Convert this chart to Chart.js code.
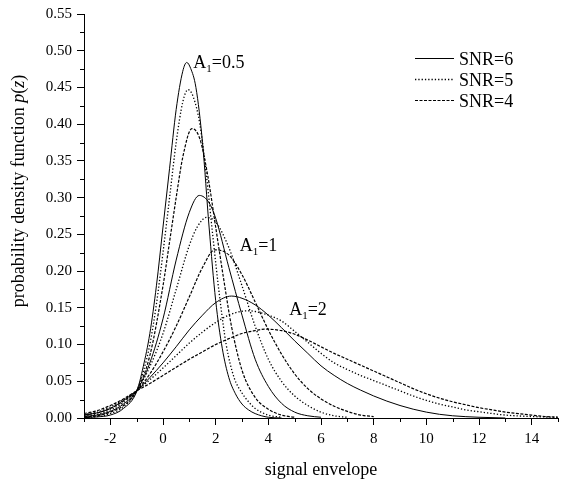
<!DOCTYPE html>
<html><head><meta charset="utf-8">
<script src="https://cdn.jsdelivr.net/npm/chart.js@4.4.1/dist/chart.umd.min.js"></script>
<style>html,body{margin:0;padding:0;background:#fff;} canvas{display:block;}</style>
</head><body>
<canvas id="c" width="563" height="483"></canvas>
<script>
const SERIF = '"Liberation Serif","Times New Roman",serif';

// ---------- data ----------
const xA05s6 = [-3,-2.5,-2,-1.5,-1,-0.75,-0.5,-0.25,0,0.25,0.5,0.75,0.9,1.05,1.25,1.5,1.75,2,2.25,2.5,2.75,3,3.25,3.5,4,4.5];
const yA05s6 = [0.0005,0.0015,0.004,0.013,0.036,0.07,0.115,0.18,0.26,0.34,0.42,0.472,0.484,0.476,0.45,0.375,0.26,0.16,0.095,0.055,0.033,0.019,0.011,0.006,0.001,0];

const xA05s5 = [-3,-2.5,-2,-1.5,-1,-0.75,-0.5,-0.25,0,0.25,0.5,0.75,0.95,1.15,1.4,1.65,1.9,2.15,2.4,2.7,3,3.25,3.5,4,4.5];
const yA05s5 = [0.001,0.002,0.006,0.015,0.037,0.063,0.1,0.155,0.225,0.3,0.375,0.43,0.447,0.437,0.4,0.33,0.245,0.165,0.1,0.055,0.034,0.022,0.013,0.004,0.001];

const xA05s4 = [-3,-2.5,-2,-1.5,-1,-0.5,0,0.25,0.5,0.75,1.1,1.4,1.7,2,2.3,2.6,3,3.5,4,4.5,5];
const yA05s4 = [0.0015,0.003,0.008,0.017,0.037,0.085,0.18,0.24,0.3,0.355,0.394,0.38,0.33,0.26,0.19,0.125,0.065,0.028,0.012,0.004,0.001];

const xA1s6 = [-3,-2.5,-2,-1.5,-1,-0.5,0,0.5,1,1.38,1.75,2,2.5,3,3.5,4,4.5,5,5.5,6];
const yA1s6 = [0.002,0.004,0.009,0.019,0.037,0.075,0.135,0.215,0.28,0.303,0.293,0.272,0.205,0.14,0.08,0.043,0.02,0.008,0.003,0.001];

const xA1s5 = [-3,-2.5,-2,-1.5,-1,-0.5,0,0.5,1,1.3,1.65,2,2.5,3,3.5,4,4.5,5,5.5,6,6.5,7];
const yA1s5 = [0.003,0.005,0.011,0.021,0.037,0.07,0.115,0.175,0.235,0.26,0.273,0.267,0.232,0.18,0.125,0.08,0.05,0.03,0.017,0.008,0.003,0.001];

const xA1s4 = [-3,-2.5,-2,-1.5,-1,-0.5,0,0.5,1,1.5,1.97,2.5,3,3.5,4,4.5,5,5.5,6,6.5,7,7.5,8];
const yA1s4 = [0.004,0.007,0.013,0.023,0.037,0.06,0.09,0.125,0.165,0.205,0.229,0.222,0.195,0.158,0.12,0.087,0.06,0.04,0.026,0.016,0.009,0.004,0.002];

const xA2s6 = [-3,-2.5,-2,-1.5,-1,-0.5,0,0.5,1,1.5,2,2.6,3,3.5,4,4.5,5,5.5,6,6.5,7,7.5,8,8.5,9,9.5,10,10.5,11,12,13];
const yA2s6 = [0.004,0.007,0.013,0.024,0.037,0.055,0.075,0.097,0.12,0.14,0.157,0.166,0.163,0.154,0.14,0.123,0.105,0.088,0.071,0.058,0.047,0.038,0.03,0.023,0.017,0.012,0.008,0.005,0.003,0.001,0];

const xA2s5 = [-3,-2.5,-2,-1.5,-1,-0.5,0,0.5,1,1.5,2,2.5,3.2,3.5,4,4.5,5,5.5,6,6.5,7,7.5,8,8.5,9,9.5,10,10.5,11,11.5,12,13,14,15];
const yA2s5 = [0.005,0.008,0.015,0.025,0.037,0.052,0.068,0.085,0.102,0.117,0.13,0.14,0.146,0.145,0.14,0.132,0.118,0.103,0.088,0.075,0.066,0.058,0.051,0.044,0.037,0.03,0.024,0.019,0.015,0.011,0.0085,0.004,0.002,0.001];

const xA2s4 = [-3,-2.5,-2,-1.5,-1,-0.5,0,0.5,1,1.5,2,2.5,3,3.5,3.85,4.5,5,5.5,6,6.5,7,7.5,8,8.5,9,9.5,10,10.5,11,11.5,12,12.5,13,13.5,14,14.5,15];
const yA2s4 = [0.006,0.01,0.017,0.026,0.037,0.047,0.058,0.069,0.08,0.09,0.1,0.108,0.115,0.119,0.121,0.119,0.114,0.106,0.097,0.088,0.08,0.072,0.064,0.056,0.048,0.04,0.033,0.027,0.022,0.018,0.014,0.011,0.008,0.006,0.004,0.002,0.001];

const legendLabels = ['SNR=6','SNR=5','SNR=4'];
const curveLabels = ['0.5','1','2'];
const curveLabelX = [1.15, 2.91, 4.79];
const curveLabelY = [0.476, 0.228, 0.14];
const xTickLabels = ['-2','0','2','4','6','8','10','12','14'];
const yTickLabels = ['0.00','0.05','0.10','0.15','0.20','0.25','0.30','0.35','0.40','0.45','0.50','0.55'];

// ---------- styling ----------
const dashes = [[], [1.3, 2], [3, 1.5]];
const widths = [1, 1.3, 1.2];
const seriesList = [
  [xA05s6, yA05s6, 0], [xA05s5, yA05s5, 1], [xA05s4, yA05s4, 2],
  [xA1s6, yA1s6, 0], [xA1s5, yA1s5, 1], [xA1s4, yA1s4, 2],
  [xA2s6, yA2s6, 0], [xA2s5, yA2s5, 1], [xA2s4, yA2s4, 2]
];
const datasets = seriesList.map(([xs, ys, k]) => ({
  data: xs.map((v, i) => ({x: v, y: ys[i]})),
  borderColor: '#000',
  borderWidth: widths[k],
  borderDash: dashes[k],
  pointRadius: 0,
  fill: false,
  cubicInterpolationMode: 'monotone'
}));

const deco = {
  id: 'deco',
  afterDraw(chart) {
    const {ctx, scales: {x, y}, chartArea: ca} = chart;
    ctx.save();
    ctx.strokeStyle = '#000';
    ctx.fillStyle = '#000';
    ctx.lineWidth = 1;
    ctx.setLineDash([]);
    // minor ticks
    for (let v = -3; v <= 15; v += 2) {
      const px = Math.round(x.getPixelForValue(v)) + 0.5;
      ctx.beginPath(); ctx.moveTo(px, ca.bottom); ctx.lineTo(px, ca.bottom + 4); ctx.stroke();
    }
    for (let i = 1; i < 22; i += 2) {
      const py = Math.round(y.getPixelForValue(i * 0.025)) + 0.5;
      ctx.beginPath(); ctx.moveTo(ca.left - 4, py); ctx.lineTo(ca.left, py); ctx.stroke();
    }
    // legend
    ctx.font = '18px ' + SERIF;
    ctx.textBaseline = 'alphabetic';
    ctx.textAlign = 'left';
    legendLabels.forEach((t, i) => {
      const ly = 58.5 + i * 21;
      ctx.lineWidth = widths[i];
      ctx.setLineDash(dashes[i]);
      ctx.beginPath(); ctx.moveTo(415, ly); ctx.lineTo(454, ly); ctx.stroke();
      ctx.setLineDash([]);
      ctx.fillText(t, 459, ly + 6);
    });
    ctx.lineWidth = 1;
    // curve labels A1=...
    curveLabels.forEach((t, i) => {
      let px = x.getPixelForValue(curveLabelX[i]);
      const py = y.getPixelForValue(curveLabelY[i]);
      ctx.font = '18px ' + SERIF;
      ctx.fillText('A', px, py);
      px += ctx.measureText('A').width;
      ctx.font = '11px ' + SERIF;
      ctx.fillText('1', px, py + 4);
      px += ctx.measureText('1').width;
      ctx.font = '18px ' + SERIF;
      ctx.fillText('=' + t, px, py);
    });
    // y title with italic parts
    const parts = [['probability density function ', ''], ['p', 'italic '], ['(', ''], ['z', 'italic '], [')', '']];
    const fs = 18;
    let total = 0;
    parts.forEach(([s, st]) => { ctx.font = st + fs + 'px ' + SERIF; total += ctx.measureText(s).width; });
    ctx.translate(24, 191);
    ctx.rotate(-Math.PI / 2);
    let cx = -total / 2;
    parts.forEach(([s, st]) => { ctx.font = st + fs + 'px ' + SERIF; ctx.fillText(s, cx, 0); cx += ctx.measureText(s).width; });
    ctx.restore();
  }
};

new Chart(document.getElementById('c'), {
  type: 'line',
  data: {datasets},
  options: {
    responsive: false,
    devicePixelRatio: 1,
    animation: false,
    events: [],
    layout: {padding: {top: 12, right: 1, left: 0, bottom: 0}},
    plugins: {legend: {display: false}, tooltip: {enabled: false}},
    scales: {
      x: {
        type: 'linear', min: -3, max: 15,
        border: {display: true, color: '#000', width: 1},
        grid: {drawOnChartArea: false, tickLength: 7,
               tickColor: c => (Math.round(c.tick.value) % 2 === 0 ? '#000' : 'rgba(0,0,0,0)')},
        ticks: {stepSize: 1, autoSkip: false, maxRotation: 0, color: '#000', padding: 5,
                font: {family: SERIF, size: 15},
                callback: v => { const i = xTickLabels.indexOf(String(v)); return i >= 0 ? xTickLabels[i] : ''; }},
        title: {display: true, text: 'signal envelope', color: '#000', font: {family: SERIF, size: 18}, padding: {top: 0, bottom: 2}},
        afterFit: s => { s.height = 65; }
      },
      y: {
        type: 'linear', min: 0, max: 0.55,
        border: {display: true, color: '#000', width: 1},
        grid: {drawOnChartArea: false, tickLength: 7,
               tickColor: c => (Math.round(c.tick.value * 40) % 2 === 0 ? '#000' : 'rgba(0,0,0,0)')},
        ticks: {stepSize: 0.025, autoSkip: false, color: '#000', padding: 5,
                font: {family: SERIF, size: 15},
                callback: v => { const k = Math.round(v * 40); return k % 2 === 0 ? yTickLabels[k / 2] : ''; }},
        afterFit: s => { s.width = 84; }
      }
    }
  },
  plugins: [deco]
});
</script>
</body></html>
